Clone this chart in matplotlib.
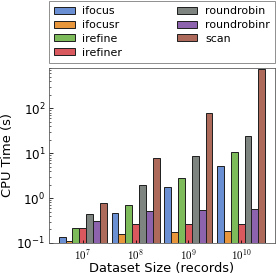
import matplotlib
matplotlib.use("Agg")
import matplotlib.pyplot as plt
import numpy as np

# dataset sizes (x groups) and CPU time per method
sizes = ["$10^{7}$", "$10^{8}$", "$10^{9}$", "$10^{10}$"]
methods = ["ifocus", "ifocusr", "irefine", "irefiner", "roundrobin", "roundrobinr", "scan"]

ifocus = [0.137, 0.47, 1.77, 5.3]
ifocusr = [0.113, 0.16, 0.174, 0.183]
irefine = [0.21, 0.71, 2.76, 10.6]
irefiner = [0.21, 0.267, 0.267, 0.267]
roundrobin = [0.446, 2.0, 8.7, 24.0]
roundrobinr = [0.31, 0.52, 0.555, 0.575]
scan = [0.78, 7.7, 78.0, 770.0]

series = [ifocus, ifocusr, irefine, irefiner, roundrobin, roundrobinr, scan]
colors = ["#6b8fd3", "#e8963c", "#7dbb5a", "#d9595e", "#7e8580", "#8d63ad", "#ad6a5a"]

plt.rcParams['mathtext.fontset'] = 'cm'

fig = plt.figure(figsize=(278/72, 277/72), dpi=72)
ax = fig.add_axes([0.176, 0.123, 0.813, 0.632])

x = np.arange(len(sizes))
w = 0.13
for i in range(len(methods)):
    ax.bar(x + (i - 3) * w, series[i], w, color=colors[i],
           edgecolor="#222222", linewidth=1.0, label=methods[i])

ax.set_yscale("log")
ax.set_ylim(0.1, 800)
ax.set_xlim(-0.64, 3.64)
ax.set_xticks(x)
ax.set_xticklabels(sizes, fontsize=11)
ax.tick_params(axis="both", which="both", direction="in")
ax.tick_params(axis="y", labelsize=12)
ax.tick_params(axis="x", pad=4)
for s in ax.spines.values():
    s.set_color("#555555")

ax.set_xlabel("Dataset Size (records)", fontsize=13, labelpad=0)
ax.set_ylabel("CPU Time (s)", fontsize=13, labelpad=2)

ax.legend(loc="lower left", bbox_to_anchor=(0, 1.03, 1, 0.3), mode="expand",
          ncol=2, fontsize=11, frameon=True, fancybox=False, edgecolor="#777777",
          handlelength=1.9, handleheight=0.6, handletextpad=0.7,
          labelspacing=0.35, borderaxespad=0.0, borderpad=0.45)

plt.savefig("out.png", dpi=72)
